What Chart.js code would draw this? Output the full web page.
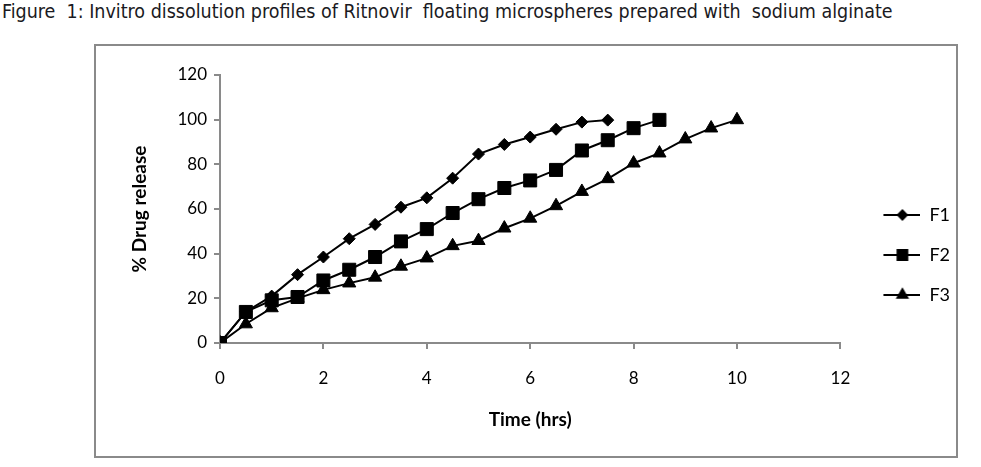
<!DOCTYPE html>
<html lang="en">
<head>
    <meta charset="UTF-8">
    <title>Invitro dissolution profiles</title>
    <script src="https://cdn.jsdelivr.net/npm/chart.js@4.4.1/dist/chart.umd.min.js"></script>
    <style>
        body{
            margin: 0;
            background: #fff;
            width: 981px;
            height: 467px;
            position: relative;
            overflow: hidden;
        }
        .caption{
            position: absolute;
            left: 2px;
            top: 0px;
            font-family: 'DejaVu Sans Condensed', 'Liberation Sans Narrow', sans-serif;
            font-size: 19.5px;
            color: #1a1a22;
            white-space: pre;
        }
        .frame{
            position: absolute;
            left: 94px;
            top: 44px;
            width: 864px;
            height: 414px;
            border: 2px solid #8a8a8a;
            box-sizing: border-box;
        }
        .plot{
            position: absolute;
            left: 96px;
            top: 46px;
            width: 873px;
            height: 389px;
        }
    </style>
</head>
<body>
    <div class="caption">Figure  1: Invitro dissolution profiles of Ritnovir  floating microspheres prepared with  sodium alginate</div>
    <div class="frame"></div>
    <div class="plot"><canvas id="miCanvas"></canvas></div>
    <script>
        // time points (hrs)
        const timeF1 = [0, 0.5, 1, 1.5, 2, 2.5, 3, 3.5, 4, 4.5, 5, 5.5, 6, 6.5, 7, 7.5];
        const timeF2 = [0, 0.5, 1, 1.5, 2, 2.5, 3, 3.5, 4, 4.5, 5, 5.5, 6, 6.5, 7, 7.5, 8, 8.5];
        const timeF3 = [0, 0.5, 1, 1.5, 2, 2.5, 3, 3.5, 4, 4.5, 5, 5.5, 6, 6.5, 7, 7.5, 8, 8.5, 9, 9.5, 10];

        // % drug release
        const releaseF1 = [0, 14, 21, 30.6, 38.5, 46.7, 53.1, 60.8, 65, 73.8, 84.6, 88.9, 92.2, 95.7, 98.9, 99.8];
        const releaseF2 = [0, 13.9, 19.1, 20.6, 28, 32.8, 38.5, 45.5, 51, 58.2, 64.4, 69.4, 72.8, 77.5, 86.2, 90.8, 96.2, 99.9];
        const releaseF3 = [0, 8.5, 15.7, 20, 23.8, 26.8, 29.4, 34.3, 38, 43.5, 45.8, 51.4, 55.8, 61.4, 67.8, 73.5, 80.5, 85, 91.3, 96.2, 99.9];

        const seriesNames = ["F1", "F2", "F3"];
        const xTicks = [0, 2, 4, 6, 8, 10, 12];
        const yTicks = [0, 20, 40, 60, 80, 100, 120];

        const pairs = (xs, ys) => xs.map((x, i) => ({x: x, y: ys[i]}));

        const markers = [
            {pointStyle: 'rectRot', radius: 6},
            {pointStyle: 'rect', radius: 9.2},
            {pointStyle: 'triangle', radius: 7.6}
        ];

        // legend swatch: short line with the marker in the middle
        const legendImg = (m) => {
            const c = document.createElement('canvas');
            c.width = 58;
            c.height = 16;
            const ctx = c.getContext('2d');
            ctx.strokeStyle = '#000';
            ctx.fillStyle = '#000';
            ctx.lineWidth = 2;
            ctx.beginPath();
            ctx.moveTo(21, 8);
            ctx.lineTo(58, 8);
            ctx.stroke();
            Chart.helpers.drawPoint(ctx, {pointStyle: m.pointStyle, radius: m.radius * 0.75, rotation: 0, borderWidth: 1}, 40, 8);
            return c;
        };
        const legendImgs = markers.map(legendImg);

        const lineSet = (label, xs, ys, m, order) => ({
            label: label,
            data: pairs(xs, ys),
            borderColor: '#000',
            backgroundColor: '#000',
            borderWidth: 2,
            pointStyle: m.pointStyle,
            pointRadius: m.radius,
            pointHoverRadius: m.radius,
            pointBorderWidth: 1,
            pointBackgroundColor: '#000',
            pointBorderColor: '#000',
            tension: 0,
            order: order
        });

        const axisGray = '#8a8a8a';
        const tickFont = {family: 'Lato, Calibri, sans-serif', size: 17};
        const legendFont = {family: 'Lato, Calibri, sans-serif', size: 18};
        const titleFont = {family: 'Lato, Calibri, sans-serif', size: 19, weight: 'bold'};

        new Chart(document.getElementById('miCanvas'), {
            type: 'line',
            data: {
                datasets: [
                    lineSet(seriesNames[0], timeF1, releaseF1, markers[0], 1),
                    lineSet(seriesNames[1], timeF2, releaseF2, markers[1], 0),
                    lineSet(seriesNames[2], timeF3, releaseF3, markers[2], 2)
                ]
            },
            options: {
                responsive: true,
                maintainAspectRatio: false,
                animation: false,
                layout: {padding: {top: 29, right: 9, bottom: 0, left: 0}},
                plugins: {
                    tooltip: {enabled: false},
                    legend: {
                        position: 'right',
                        labels: {
                            usePointStyle: true,
                            pointStyleWidth: 58,
                            padding: 22,
                            color: '#000',
                            font: legendFont,
                            generateLabels: (chart) => chart.data.datasets.map((ds, i) => ({
                                text: ds.label,
                                pointStyle: legendImgs[i],
                                fillStyle: 'rgba(0,0,0,0)',
                                strokeStyle: 'rgba(0,0,0,0)',
                                lineWidth: 0,
                                hidden: false,
                                datasetIndex: i,
                                fontColor: '#000'
                            }))
                        }
                    }
                },
                scales: {
                    x: {
                        type: 'linear',
                        min: 0,
                        max: 12,
                        afterBuildTicks: (s) => { s.ticks = xTicks.map(v => ({value: v})); },
                        afterFit: (s) => { s.height = 92; },
                        ticks: {color: '#000', font: tickFont, padding: 19, maxRotation: 0},
                        grid: {drawOnChartArea: false, color: axisGray, lineWidth: 2, tickLength: 6},
                        border: {color: axisGray, width: 2},
                        title: {display: true, text: 'Time (hrs)', color: '#000', font: titleFont, padding: {top: 0, bottom: 3.6}}
                    },
                    y: {
                        min: 0,
                        max: 120,
                        afterBuildTicks: (s) => { s.ticks = yTicks.map(v => ({value: v})); },
                        afterFit: (s) => { s.width = 124; },
                        ticks: {color: '#000', font: tickFont, padding: 7},
                        grid: {drawOnChartArea: false, color: axisGray, lineWidth: 2, tickLength: 6},
                        border: {color: axisGray, width: 2},
                        title: {display: true, text: '% Drug release', color: '#000', font: titleFont, padding: {top: 32.6, bottom: 0}}
                    }
                }
            }
        });
    </script>
</body>
</html>
